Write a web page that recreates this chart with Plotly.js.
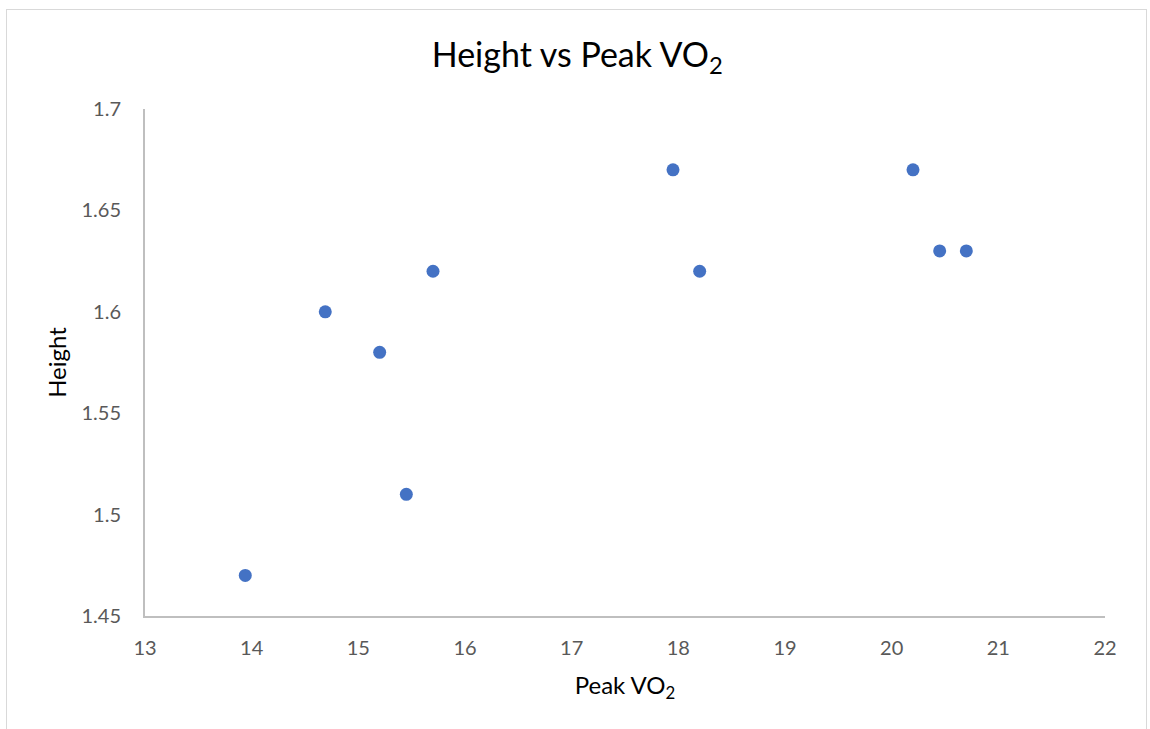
<!DOCTYPE html>
<html>
<head>
<meta charset="utf-8">
<script src="https://cdn.plot.ly/plotly-3.0.1.min.js"></script>
<style>
html, body { margin: 0; padding: 0; background: #fff; }
#chart { width: 1150px; height: 729px; }
#frame { position: absolute; left: 6px; top: 9px; width: 1139px; height: 740px; border: 1px solid #d9d9d9; pointer-events: none; }
</style>
</head>
<body>
<div id="chart"></div>
<div id="frame"></div>
<script>
const peakVO2 = [13.94, 14.69, 15.2, 15.45, 15.7, 17.95, 18.2, 20.2, 20.45, 20.7];
const height = [1.47, 1.60, 1.58, 1.51, 1.62, 1.67, 1.62, 1.67, 1.63, 1.63];
const xTicks = [13, 14, 15, 16, 17, 18, 19, 20, 21, 22];
const yTicks = [1.45, 1.5, 1.55, 1.6, 1.65, 1.7];
const yTickText = ['1.45', '1.5', '1.55', '1.6', '1.65', '1.7'];

const font = 'Lato, "Open Sans", sans-serif';

Plotly.newPlot('chart', [{
  x: peakVO2,
  y: height,
  type: 'scatter',
  mode: 'markers',
  marker: { color: '#4472c4', size: 13 },
  hoverinfo: 'x+y'
}], {
  width: 1150,
  height: 729,
  margin: { l: 145, r: 45, t: 109, b: 113 },
  paper_bgcolor: '#ffffff',
  plot_bgcolor: '#ffffff',
  showlegend: false,
  font: { family: font, color: '#595959', size: 20 },
  title: {
    text: 'Height vs Peak VO<sub>2</sub>',
    font: { family: font, size: 34, color: '#000000' },
    x: 0.502, xanchor: 'center',
    y: 0.925, yanchor: 'middle'
  },
  xaxis: {
    range: [13, 22],
    tickvals: xTicks,
    ticktext: xTicks.map(String),
    showgrid: false,
    zeroline: false,
    showline: true,
    linecolor: '#bfbfbf',
    linewidth: 2,
    ticks: '',
    ticklabelstandoff: 13,
    tickfont: { family: font, size: 20, color: '#595959' },
    title: { text: 'Peak VO<sub>2</sub>', font: { family: font, size: 24, color: '#000000' }, standoff: 19 }
  },
  yaxis: {
    range: [1.45, 1.7],
    tickvals: yTicks,
    ticktext: yTickText,
    showgrid: false,
    zeroline: false,
    showline: true,
    linecolor: '#bfbfbf',
    linewidth: 2,
    ticks: '',
    ticklabelstandoff: 18,
    tickfont: { family: font, size: 20, color: '#595959' },
    title: { text: 'Height', font: { family: font, size: 24, color: '#000000' }, standoff: 8 }
  }
}, { displayModeBar: false });
</script>
</body>
</html>
